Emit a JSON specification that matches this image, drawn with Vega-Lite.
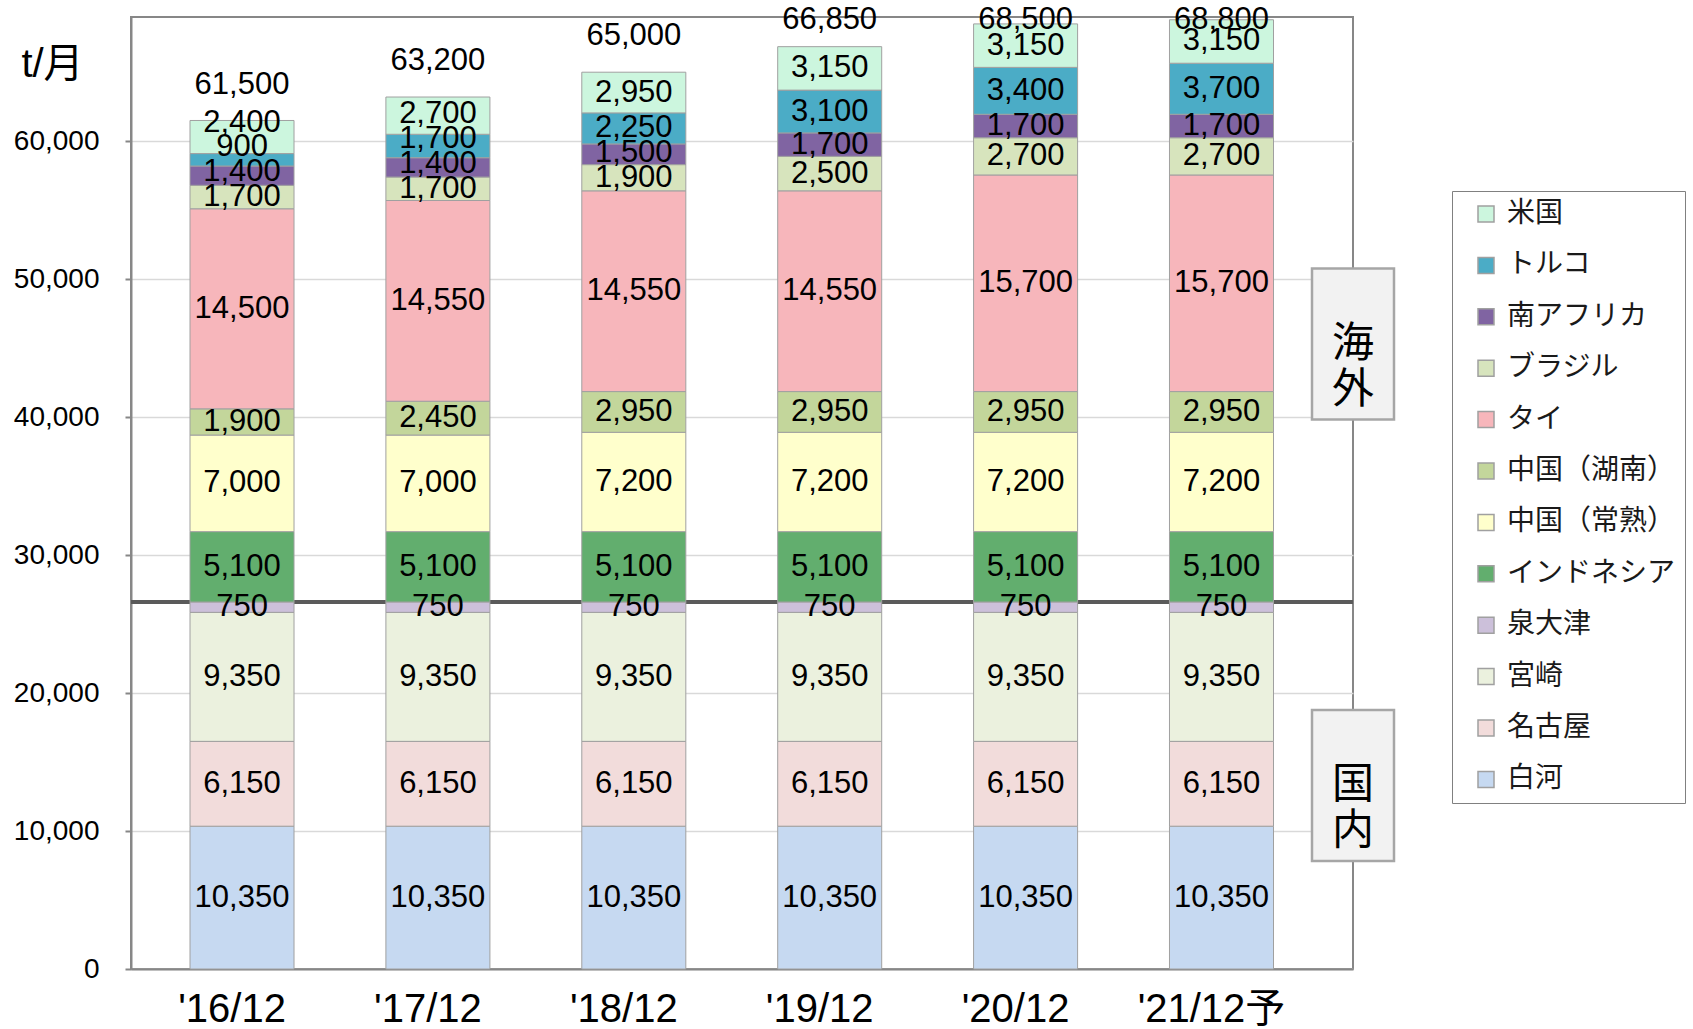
{
  "$schema": "https://vega.github.io/schema/vega-lite/v6.json",
  "autosize": {"type": "none"},
  "padding": {"left": 131, "top": 17, "right": 340, "bottom": 60},
  "width": 1222,
  "height": 952,
  "background": "white",
  "config": {
    "view": {"stroke": "#878787", "strokeWidth": 2},
    "font": "Liberation Sans, Noto Sans CJK JP",
    "axis": {"labelColor": "#000000", "titleColor": "#000000"}
  },
  "datasets": {
    "能力": [
      {"年": "'16/12", "拠点": "白河", "生産能力": 10350},
      {"年": "'17/12", "拠点": "白河", "生産能力": 10350},
      {"年": "'18/12", "拠点": "白河", "生産能力": 10350},
      {"年": "'19/12", "拠点": "白河", "生産能力": 10350},
      {"年": "'20/12", "拠点": "白河", "生産能力": 10350},
      {"年": "'21/12予", "拠点": "白河", "生産能力": 10350},
      {"年": "'16/12", "拠点": "名古屋", "生産能力": 6150},
      {"年": "'17/12", "拠点": "名古屋", "生産能力": 6150},
      {"年": "'18/12", "拠点": "名古屋", "生産能力": 6150},
      {"年": "'19/12", "拠点": "名古屋", "生産能力": 6150},
      {"年": "'20/12", "拠点": "名古屋", "生産能力": 6150},
      {"年": "'21/12予", "拠点": "名古屋", "生産能力": 6150},
      {"年": "'16/12", "拠点": "宮崎", "生産能力": 9350},
      {"年": "'17/12", "拠点": "宮崎", "生産能力": 9350},
      {"年": "'18/12", "拠点": "宮崎", "生産能力": 9350},
      {"年": "'19/12", "拠点": "宮崎", "生産能力": 9350},
      {"年": "'20/12", "拠点": "宮崎", "生産能力": 9350},
      {"年": "'21/12予", "拠点": "宮崎", "生産能力": 9350},
      {"年": "'16/12", "拠点": "泉大津", "生産能力": 750},
      {"年": "'17/12", "拠点": "泉大津", "生産能力": 750},
      {"年": "'18/12", "拠点": "泉大津", "生産能力": 750},
      {"年": "'19/12", "拠点": "泉大津", "生産能力": 750},
      {"年": "'20/12", "拠点": "泉大津", "生産能力": 750},
      {"年": "'21/12予", "拠点": "泉大津", "生産能力": 750},
      {"年": "'16/12", "拠点": "インドネシア", "生産能力": 5100},
      {"年": "'17/12", "拠点": "インドネシア", "生産能力": 5100},
      {"年": "'18/12", "拠点": "インドネシア", "生産能力": 5100},
      {"年": "'19/12", "拠点": "インドネシア", "生産能力": 5100},
      {"年": "'20/12", "拠点": "インドネシア", "生産能力": 5100},
      {"年": "'21/12予", "拠点": "インドネシア", "生産能力": 5100},
      {"年": "'16/12", "拠点": "中国（常熟）", "生産能力": 7000},
      {"年": "'17/12", "拠点": "中国（常熟）", "生産能力": 7000},
      {"年": "'18/12", "拠点": "中国（常熟）", "生産能力": 7200},
      {"年": "'19/12", "拠点": "中国（常熟）", "生産能力": 7200},
      {"年": "'20/12", "拠点": "中国（常熟）", "生産能力": 7200},
      {"年": "'21/12予", "拠点": "中国（常熟）", "生産能力": 7200},
      {"年": "'16/12", "拠点": "中国（湖南）", "生産能力": 1900},
      {"年": "'17/12", "拠点": "中国（湖南）", "生産能力": 2450},
      {"年": "'18/12", "拠点": "中国（湖南）", "生産能力": 2950},
      {"年": "'19/12", "拠点": "中国（湖南）", "生産能力": 2950},
      {"年": "'20/12", "拠点": "中国（湖南）", "生産能力": 2950},
      {"年": "'21/12予", "拠点": "中国（湖南）", "生産能力": 2950},
      {"年": "'16/12", "拠点": "タイ", "生産能力": 14500},
      {"年": "'17/12", "拠点": "タイ", "生産能力": 14550},
      {"年": "'18/12", "拠点": "タイ", "生産能力": 14550},
      {"年": "'19/12", "拠点": "タイ", "生産能力": 14550},
      {"年": "'20/12", "拠点": "タイ", "生産能力": 15700},
      {"年": "'21/12予", "拠点": "タイ", "生産能力": 15700},
      {"年": "'16/12", "拠点": "ブラジル", "生産能力": 1700},
      {"年": "'17/12", "拠点": "ブラジル", "生産能力": 1700},
      {"年": "'18/12", "拠点": "ブラジル", "生産能力": 1900},
      {"年": "'19/12", "拠点": "ブラジル", "生産能力": 2500},
      {"年": "'20/12", "拠点": "ブラジル", "生産能力": 2700},
      {"年": "'21/12予", "拠点": "ブラジル", "生産能力": 2700},
      {"年": "'16/12", "拠点": "南アフリカ", "生産能力": 1400},
      {"年": "'17/12", "拠点": "南アフリカ", "生産能力": 1400},
      {"年": "'18/12", "拠点": "南アフリカ", "生産能力": 1500},
      {"年": "'19/12", "拠点": "南アフリカ", "生産能力": 1700},
      {"年": "'20/12", "拠点": "南アフリカ", "生産能力": 1700},
      {"年": "'21/12予", "拠点": "南アフリカ", "生産能力": 1700},
      {"年": "'16/12", "拠点": "トルコ", "生産能力": 900},
      {"年": "'17/12", "拠点": "トルコ", "生産能力": 1700},
      {"年": "'18/12", "拠点": "トルコ", "生産能力": 2250},
      {"年": "'19/12", "拠点": "トルコ", "生産能力": 3100},
      {"年": "'20/12", "拠点": "トルコ", "生産能力": 3400},
      {"年": "'21/12予", "拠点": "トルコ", "生産能力": 3700},
      {"年": "'16/12", "拠点": "米国", "生産能力": 2400},
      {"年": "'17/12", "拠点": "米国", "生産能力": 2700},
      {"年": "'18/12", "拠点": "米国", "生産能力": 2950},
      {"年": "'19/12", "拠点": "米国", "生産能力": 3150},
      {"年": "'20/12", "拠点": "米国", "生産能力": 3150},
      {"年": "'21/12予", "拠点": "米国", "生産能力": 3150}
    ],
    "合計": [
      {"年": "'16/12", "合計": 61500},
      {"年": "'17/12", "合計": 63200},
      {"年": "'18/12", "合計": 65000},
      {"年": "'19/12", "合計": 66850},
      {"年": "'20/12", "合計": 68500},
      {"年": "'21/12予", "合計": 68800}
    ],
    "区分": [
      {"区分": "海外", "位置": 45300},
      {"区分": "国内", "位置": 13300}
    ],
    "境界": [
      {"境界": 26600}
    ]
  },
  "layer": [
    {
      "data": {"name": "境界"},
      "mark": {"type": "rule", "color": "#5a5a5a", "strokeWidth": 4},
      "encoding": {
        "y": {"field": "境界", "type": "quantitative", "scale": {"domain": [0, 69000], "nice": false}}
      }
    },
    {
      "data": {"name": "能力"},
      "transform": [
        {"calculate": "indexof(['白河','名古屋','宮崎','泉大津','インドネシア','中国（常熟）','中国（湖南）','タイ','ブラジル','南アフリカ','トルコ','米国'], datum['拠点'])", "as": "順"}
      ],
      "mark": {"type": "bar", "stroke": "#a0a0a0", "strokeWidth": 1},
      "encoding": {
        "x": {
          "field": "年", "type": "nominal",
          "scale": {"domain": ["'16/12", "'17/12", "'18/12", "'19/12", "'20/12", "'21/12予"], "paddingInner": 0.469, "paddingOuter": 0.3535, "align": 0.426},
          "axis": {"title": null, "labelAngle": 0, "labelFontSize": 40, "labelPadding": 20, "labelOffset": -10, "ticks": false, "domainColor": "#878787", "domainWidth": 2, "labelFont": "Liberation Sans, Noto Sans CJK JP"}
        },
        "y": {
          "field": "生産能力", "type": "quantitative", "stack": "zero",
          "scale": {"domain": [0, 69000], "nice": false},
          "axis": {
            "title": "t/月", "titleAngle": 0, "titleAlign": "center", "titleBaseline": "middle", "titleX": -79, "titleY": 47, "titleFontSize": 40, "titleFontWeight": "normal",
            "values": [0, 10000, 20000, 30000, 40000, 50000, 60000], "format": ",d",
            "labelFontSize": 28, "labelPadding": 26, "tickSize": 6, "tickColor": "#878787", "tickWidth": 2,
            "domainColor": "#878787", "domainWidth": 2, "gridColor": "#d9d9d9", "gridWidth": 1.5
          }
        },
        "color": {
          "field": "拠点", "type": "nominal",
          "scale": {
            "domain": ["米国", "トルコ", "南アフリカ", "ブラジル", "タイ", "中国（湖南）", "中国（常熟）", "インドネシア", "泉大津", "宮崎", "名古屋", "白河"],
            "range": ["#ccf6de", "#4bacc6", "#8064a2", "#d7e4bd", "#f7b6bb", "#c3d69b", "#ffffcc", "#62ae6e", "#ccc0da", "#ebf1de", "#f2dcdb", "#c6d9f1"]
          },
          "legend": {
            "title": null, "orient": "none", "legendX": 1321, "legendY": 174,
            "padding": 9, "rowPadding": 23.4, "labelFontSize": 28, "labelFont": "Noto Sans CJK JP", "labelColor": "#1a1a1a",
            "symbolType": "square", "symbolSize": 256, "symbolOffset": 11, "labelOffset": 7,
            "symbolStrokeColor": "#a0a0a0", "symbolStrokeWidth": 1.5,
            "strokeColor": "#808080", "fillColor": "white", "labelLimit": 400
          }
        },
        "order": {"field": "順", "type": "quantitative", "sort": "ascending"}
      }
    },
    {
      "data": {"name": "能力"},
      "transform": [
        {"calculate": "indexof(['白河','名古屋','宮崎','泉大津','インドネシア','中国（常熟）','中国（湖南）','タイ','ブラジル','南アフリカ','トルコ','米国'], datum['拠点'])", "as": "順"},
        {"stack": "生産能力", "groupby": ["年"], "sort": [{"field": "順", "order": "ascending"}], "as": ["下端", "上端"]},
        {"calculate": "(datum['下端'] + datum['上端']) / 2", "as": "中央"},
        {"window": [{"op": "row_number", "as": "段"}], "groupby": ["年"], "sort": [{"field": "順", "order": "ascending"}]},
        {"calculate": "datum['中央'] - datum['段'] * 1800", "as": "基準"},
        {"window": [{"op": "max", "field": "基準", "as": "累積"}], "groupby": ["年"], "sort": [{"field": "順", "order": "ascending"}], "frame": [null, 0]},
        {"calculate": "datum['累積'] + datum['段'] * 1800", "as": "表示位置"}
      ],
      "mark": {"type": "text", "fontSize": 31, "font": "Liberation Sans", "color": "#000000", "baseline": "middle", "align": "center"},
      "encoding": {
        "x": {"field": "年", "type": "nominal"},
        "y": {"field": "表示位置", "type": "quantitative"},
        "text": {"field": "生産能力", "type": "quantitative", "format": ",d"}
      }
    },
    {
      "data": {"name": "合計"},
      "transform": [
        {"calculate": "min(datum['合計'] + 2600, 68800)", "as": "表示位置"}
      ],
      "mark": {"type": "text", "fontSize": 31, "font": "Liberation Sans", "color": "#000000", "baseline": "middle", "align": "center"},
      "encoding": {
        "x": {"field": "年", "type": "nominal"},
        "y": {"field": "表示位置", "type": "quantitative"},
        "text": {"field": "合計", "type": "quantitative", "format": ",d"}
      }
    },
    {
      "data": {"name": "区分"},
      "mark": {"type": "point", "shape": "M-1,-1.84L1,-1.84L1,1.84L-1,1.84Z", "size": 6724, "filled": true, "fill": "#f2f2f2", "stroke": "#a6a6a6", "strokeWidth": 2.5, "opacity": 1},
      "encoding": {
        "x": {"value": "width"},
        "y": {"field": "位置", "type": "quantitative"}
      }
    },
    {
      "data": {"name": "区分"},
      "transform": [
        {"calculate": "split(datum['区分'], '')", "as": "縦書き"}
      ],
      "mark": {"type": "text", "fontSize": 42, "font": "Noto Sans CJK JP", "color": "#000000", "baseline": "middle", "align": "center", "lineHeight": 46},
      "encoding": {
        "x": {"value": "width"},
        "y": {"field": "位置", "type": "quantitative"},
        "text": {"field": "縦書き"}
      }
    }
  ]
}
